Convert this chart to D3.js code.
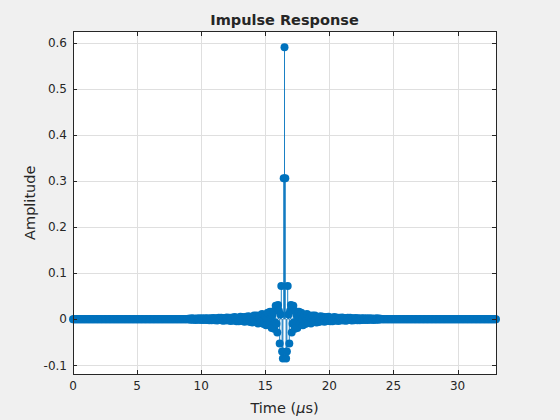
<!DOCTYPE html>
<html>
<head>
<meta charset="utf-8">
<script src="https://cdn.jsdelivr.net/npm/d3@7"></script>
<style>
  html, body { margin: 0; padding: 0; background: #f0f0f0; }
  svg { display: block; }
  text { font-family: "DejaVu Sans", sans-serif; fill: #262626; }
</style>
</head>
<body>
<script>
// ---------------- data ----------------
const sampleIntervalUs = 0.0625;          // time between samples (µs)
const amplitude = [
  0,0,0,0,0,0,0,0,0,0,0,0, 0,0,0,0,0,0,0,0,0,0,0,0,
  0,0,0,0,0,0,0,0,0,0,0,0, 0,0,0,0,0,0,0,0,0,0,0,0,
  0,0,0,0,0,0,0,0,0,0,0,0, 0,0,0,0,0,0,0,0,0,0,0,0,
  0,0,0,0,0,0,0,0,0,0,0,0, 0,0,0,0,0,0,0,0,0,0,0,0,
  0,0,0,0,0,0,0,0,0,0,0,0, 0,0,0,0,0,0,0,0,0,0,0,0,
  0,0,0,0,0,0,0,0,0,0,0,0, 0,0,0,0,0,0,0,0,0,0,0,0,
  0.0009, 0.0010, -0.0015, -0.0002, 0.0017, -0.0008, -0.0013, 0.0016, 0.0005, -0.0019,
  0.0006, 0.0016, -0.0015, -0.0008, 0.0020, -0.0003, -0.0019, 0.0014, 0.0012, -0.0021,
  0.0000, 0.0022, -0.0013, -0.0016, 0.0022, 0.0004, -0.0025, 0.0010, 0.0020, -0.0022,
  -0.0008, 0.0027, -0.0007, -0.0024, 0.0021, 0.0013, -0.0029, 0.0003, 0.0029, -0.0019,
  -0.0019, 0.0031, 0.0002, -0.0033, 0.0017, 0.0025, -0.0031, -0.0008, 0.0037, -0.0013,
  -0.0031, 0.0031, 0.0015, -0.0041, 0.0008, 0.0038, -0.0030, -0.0023, 0.0044, -0.0001,
  -0.0045, 0.0027, 0.0031, -0.0046, -0.0006, 0.0052, -0.0023, -0.0041, 0.0047, 0.0016,
  -0.0059, 0.0017, 0.0052, -0.0047, -0.0028, 0.0065, -0.0009, -0.0064, 0.0046, 0.0041,
  -0.0072, -0.0003, 0.0077, -0.0042, -0.0058, 0.0078, 0.0017, -0.0093, 0.0036, 0.0079,
  -0.0083, -0.0036, 0.0111, -0.0025, -0.0105, 0.0088, 0.0063, -0.0133, 0.0009, 0.0141,
  -0.0093, -0.0102, 0.0163, 0.0018, -0.0194, 0.0096, 0.0165, -0.0210, -0.0066, 0.0288,
  -0.0098, -0.0292, 0.0306, 0.0181, -0.0526, 0.0100, 0.0720, -0.0702, -0.0853, 0.3057,
  0.5900,
  0.3057, -0.0853, -0.0702, 0.0720, 0.0100, -0.0526, 0.0181, 0.0306, -0.0292, -0.0098,
  0.0288, -0.0066, -0.0210, 0.0165, 0.0096, -0.0194, 0.0018, 0.0163, -0.0102, -0.0093,
  0.0141, 0.0009, -0.0133, 0.0063, 0.0088, -0.0105, -0.0025, 0.0111, -0.0036, -0.0083,
  0.0079, 0.0036, -0.0093, 0.0017, 0.0078, -0.0058, -0.0042, 0.0077, -0.0003, -0.0072,
  0.0041, 0.0046, -0.0064, -0.0009, 0.0065, -0.0028, -0.0047, 0.0052, 0.0017, -0.0059,
  0.0016, 0.0047, -0.0041, -0.0023, 0.0052, -0.0006, -0.0046, 0.0031, 0.0027, -0.0045,
  -0.0001, 0.0044, -0.0023, -0.0030, 0.0038, 0.0008, -0.0041, 0.0015, 0.0031, -0.0031,
  -0.0013, 0.0037, -0.0008, -0.0031, 0.0025, 0.0017, -0.0033, 0.0002, 0.0031, -0.0019,
  -0.0019, 0.0029, 0.0003, -0.0029, 0.0013, 0.0021, -0.0024, -0.0007, 0.0027, -0.0008,
  -0.0022, 0.0020, 0.0010, -0.0025, 0.0004, 0.0022, -0.0016, -0.0013, 0.0022, 0.0000,
  -0.0021, 0.0012, 0.0014, -0.0019, -0.0003, 0.0020, -0.0008, -0.0015, 0.0016, 0.0006,
  -0.0019, 0.0005, 0.0016, -0.0013, -0.0008, 0.0017, -0.0002, -0.0015, 0.0010, 0.0009,
  0,0,0,0,0,0,0,0,0,0,0,0, 0,0,0,0,0,0,0,0,0,0,0,0,
  0,0,0,0,0,0,0,0,0,0,0,0, 0,0,0,0,0,0,0,0,0,0,0,0,
  0,0,0,0,0,0,0,0,0,0,0,0, 0,0,0,0,0,0,0,0,0,0,0,0,
  0,0,0,0,0,0,0,0,0,0,0,0, 0,0,0,0,0,0,0,0,0,0,0,0,
  0,0,0,0,0,0,0,0,0,0,0,0, 0,0,0,0,0,0,0,0,0,0,0,0,
  0,0,0,0,0,0,0,0,0,0,0,0, 0,0,0,0,0,0,0,0,0,0,0,0
];
const xDomain = [0, 33];
const yDomain = [-0.119, 0.624];
const xTicks = [0, 5, 10, 15, 20, 25, 30];
const yTicks = [-0.1, 0, 0.1, 0.2, 0.3, 0.4, 0.5, 0.6];
const yTickLabels = ["-0.1", "0", "0.1", "0.2", "0.3", "0.4", "0.5", "0.6"];
const titleText = "Impulse Response";
const yLabelText = "Amplitude";

// ---------------- layout ----------------
const W = 560, H = 420;
const L = 73, R = 496, T = 31.5, B = 374;
const color = "#0072BD";
const axisColor = "#262626";

const samples = amplitude.map((v, i) => ({ t: i * sampleIntervalUs, v }));

const svg = d3.select("body").append("svg").attr("width", W).attr("height", H);
svg.append("rect").attr("width", W).attr("height", H).attr("fill", "#f0f0f0");

const x = d3.scaleLinear().domain(xDomain).range([L, R]);
const y = d3.scaleLinear().domain(yDomain).range([B, T]);

svg.append("rect").attr("x", L).attr("y", T).attr("width", R - L).attr("height", B - T).attr("fill", "#ffffff");

// grid
const grid = svg.append("g").attr("stroke", "#dfdfdf").attr("stroke-width", 1).attr("shape-rendering", "crispEdges");
grid.selectAll("line.gx").data(xTicks).join("line")
  .attr("x1", d => Math.round(x(d)) + 0.5).attr("x2", d => Math.round(x(d)) + 0.5)
  .attr("y1", T).attr("y2", B);
grid.selectAll("line.gy").data(yTicks).join("line")
  .attr("y1", d => Math.round(y(d)) + 0.5).attr("y2", d => Math.round(y(d)) + 0.5)
  .attr("x1", L).attr("x2", R);

// stems
const plot = svg.append("g");
plot.selectAll("line.stem").data(samples).join("line")
  .attr("class", "stem")
  .attr("x1", d => x(d.t)).attr("x2", d => x(d.t))
  .attr("y1", y(0)).attr("y2", d => y(d.v))
  .attr("stroke", color).attr("stroke-width", 0.9);
plot.selectAll("circle").data(samples).join("circle")
  .attr("cx", d => x(d.t)).attr("cy", d => y(d.v)).attr("r", 4)
  .attr("fill", color);

// axes box & ticks
const axG = svg.append("g").attr("stroke", axisColor).attr("stroke-width", 1).attr("shape-rendering", "crispEdges");
axG.append("rect").attr("x", L + 0.5).attr("y", T).attr("width", R - L - 0.5).attr("height", B - T).attr("fill", "none");
const tl = 4.3;
xTicks.forEach(d => {
  const px = Math.round(x(d)) + 0.5;
  axG.append("line").attr("x1", px).attr("x2", px).attr("y1", B).attr("y2", B - tl);
  axG.append("line").attr("x1", px).attr("x2", px).attr("y1", T).attr("y2", T + tl);
});
yTicks.forEach(d => {
  const py = Math.round(y(d)) + 0.5;
  axG.append("line").attr("x1", L).attr("x2", L + tl).attr("y1", py).attr("y2", py);
  axG.append("line").attr("x1", R).attr("x2", R - tl).attr("y1", py).attr("y2", py);
});

// tick labels
svg.selectAll("text.xt").data(xTicks).join("text")
  .attr("x", d => x(d)).attr("y", B + 16)
  .attr("text-anchor", "middle").attr("font-size", 12).text(d => d);
svg.selectAll("text.yt").data(yTicks).join("text")
  .attr("x", L - 6).attr("y", d => y(d) + 4.3)
  .attr("text-anchor", "end").attr("font-size", 12).text((d, i) => yTickLabels[i]);

// labels
const xl = svg.append("text").attr("x", (L + R) / 2).attr("y", 413)
  .attr("text-anchor", "middle").attr("font-size", 14.5);
xl.append("tspan").text("Time (");
xl.append("tspan").attr("font-style", "italic").text("μ");
xl.append("tspan").text("s)");

svg.append("text").attr("transform", `translate(35,${(T + B) / 2}) rotate(-90)`)
  .attr("text-anchor", "middle").attr("font-size", 14.5).text(yLabelText);

svg.append("text").attr("x", (L + R) / 2).attr("y", 25)
  .attr("text-anchor", "middle").attr("font-size", 14.5).attr("font-weight", "bold").text(titleText);
</script>
</body>
</html>
